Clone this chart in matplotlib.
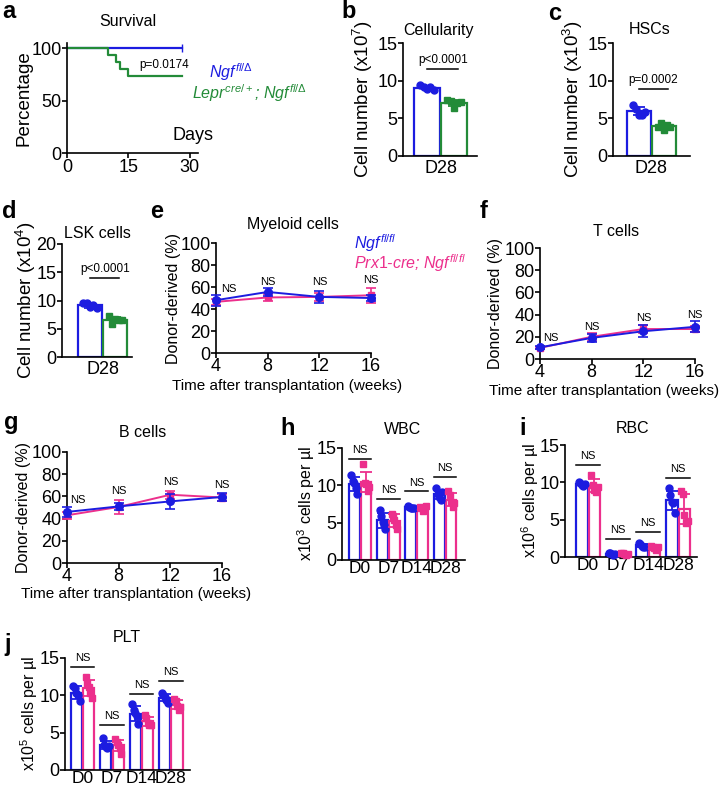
import numpy as np
import matplotlib
matplotlib.use("Agg")
import matplotlib.pyplot as plt

plt.rcParams['font.family'] = ['Liberation Sans', 'DejaVu Sans']
plt.rcParams['mathtext.fontset'] = 'custom'
plt.rcParams['mathtext.rm'] = 'Liberation Sans'
plt.rcParams['mathtext.it'] = 'Liberation Sans:italic'
plt.rcParams['mathtext.bf'] = 'Liberation Sans:bold'

BLUE = '#1c1ce0'
GREEN = '#238b38'
PINK = '#ec2f8c'

# ---------------- data ----------------
# a: survival
surv_ctrl_days = [0, 28]
surv_ctrl_pct = [100, 100]
surv_ko_days = [0, 10, 12, 13, 15, 28]
surv_ko_pct = [100, 93.3, 86.7, 80.0, 73.3, 73.3]
surv_p = "p=0.0174"

# b-d: single timepoint bars (D28)
cell_ctrl = [9.4, 9.2, 8.9, 9.1, 8.8]
cell_ko = [7.4, 7.3, 6.4, 7.0, 7.2]
hsc_ctrl = [6.8, 6.2, 5.5, 5.5, 5.9]
hsc_ko = [3.9, 4.4, 3.5, 4.1, 3.9]
lsk_ctrl = [9.6, 9.5, 8.8, 9.2, 8.6]
lsk_ko = [7.3, 5.8, 6.8, 6.6, 6.5]

# e-g: time courses
weeks = [4, 8, 12, 16]
mye_ctrl = [48, 55.5, 51, 50]
mye_ctrl_err = [5, 4, 5.5, 3]
mye_ko = [46.5, 50.5, 51, 52.5]
mye_ko_err = [3, 3, 4, 7]
t_ctrl = [10.5, 19, 25, 29]
t_ctrl_err = [1.5, 3.5, 5.5, 5]
t_ko = [10, 20, 27, 27]
t_ko_err = [1, 3.5, 3.5, 3]
b_ctrl = [46, 51, 55.5, 59.5]
b_ctrl_err = [4.5, 3, 7, 4]
b_ko = [43, 50.5, 61.5, 59]
b_ko_err = [3, 6.5, 3.5, 3]

# h-j: blood counts
days = ['D0', 'D7', 'D14', 'D28']
wbc_ctrl = [[11.4, 10.6, 10.3, 9.6, 8.9], [6.7, 5.9, 5.1, 4.7, 4.1],
            [7.2, 7.1, 7.0, 7.0, 6.9], [9.6, 8.9, 8.5, 8.0, 9.1]]
wbc_ko = [[12.8, 10.3, 10.2, 9.2, 9.8], [6.2, 5.9, 5.4, 4.7, 4.2],
          [7.1, 7.0, 6.5, 6.8, 7.2], [9.2, 8.7, 7.8, 7.1, 7.6]]
rbc_ctrl = [[10.0, 9.9, 9.7, 9.5, 9.8], [0.6, 0.5, 0.4, 0.3, 0.4],
            [1.9, 1.7, 1.5, 1.3, 1.4], [9.3, 8.3, 7.4, 7.2, 5.9]]
rbc_ko = [[11.0, 9.6, 9.0, 8.7, 9.4], [0.5, 0.5, 0.4, 0.3, 0.4],
          [1.5, 1.4, 1.2, 1.0, 1.3], [8.8, 8.4, 5.6, 4.5, 4.8]]
plt_ctrl = [[11.3, 11.0, 10.3, 10.0, 9.2], [4.3, 3.4, 3.1, 3.0, 3.2],
            [8.8, 8.1, 7.6, 7.2, 6.1], [10.3, 10.0, 9.8, 9.4, 9.0]]
plt_ko = [[12.4, 11.6, 11.1, 10.3, 9.6], [4.2, 3.8, 3.4, 2.9, 2.2],
          [7.4, 6.9, 6.3, 6.0, 6.0], [9.5, 9.2, 8.6, 8.1, 8.4]]

# ---------------- layout helpers ----------------
W, H = 722, 789
fig = plt.figure(figsize=(W / 100, H / 100), dpi=100)

TICK_FS = 13
YLAB_FS = 13.5


def add_ax(l, t, r, b):
    ax = fig.add_axes([l / W, 1 - b / H, (r - l) / W, (b - t) / H])
    ax._box_px = (l, t, r, b)
    for s in ('top', 'right'):
        ax.spines[s].set_visible(False)
    for s in ('left', 'bottom'):
        ax.spines[s].set_linewidth(1.2)
    ax.tick_params(direction='out', length=3.5, width=1.2, labelsize=TICK_FS, pad=0.5)
    return ax


def ylabel_at(ax, text, right_px, fs=YLAB_FS):
    l, t, r, b = ax._box_px
    ax.set_ylabel(text, fontsize=fs)
    ax.yaxis.set_label_coords((right_px - l) / (r - l), 0.5)


def ftext(x, y, s, **kw):
    fig.text(x / W, 1 - y / H, s, **kw)


def letter(x, y, s):
    ftext(x, y, s, fontsize=17, fontweight='bold', ha='left', va='center')


def title(x, y, s):
    ftext(x, y, s, fontsize=11.5, ha='center', va='center')


OFFS = np.array([-0.32, -0.16, 0.0, 0.16, 0.32])


def scatter_bar(ax, x, vals, color, marker, width):
    vals = np.asarray(vals)
    m = vals.mean()
    sd = vals.std(ddof=1)
    ax.bar(x, m, width=width, facecolor='white', edgecolor=color, linewidth=1.6, zorder=1)
    ax.plot(x + OFFS * width * 0.85, vals, linestyle='none', marker=marker, color=color,
            markersize=5, zorder=3, clip_on=False)
    ax.errorbar(x, m, yerr=sd, color=color, capsize=4, elinewidth=1.3, capthick=1.3,
                zorder=4, fmt='none')


# ---------------- a: survival ----------------
ax = add_ax(67, 43, 198, 153)
ax.step(surv_ctrl_days, surv_ctrl_pct, where='post', color=BLUE, lw=1.6, clip_on=False)
ax.plot(surv_ctrl_days[-1:], surv_ctrl_pct[-1:], marker='|', color=BLUE, markersize=6,
        clip_on=False)
ax.step(surv_ko_days, surv_ko_pct, where='post', color=GREEN, lw=1.6, clip_on=False)
ax.set_xlim(0, 32)
ax.set_ylim(0, 105)
ax.set_xticks([0, 15, 30])
ax.set_yticks([0, 50, 100])
ylabel_at(ax, 'Percentage', 32)
letter(2, 12, 'a')
title(128, 21, 'Survival')
ftext(139, 65, surv_p, fontsize=8.5, ha='left', va='center')
ftext(172, 135, 'Days', fontsize=13, ha='left', va='center')
ftext(209, 72, r'$Ngf^{fl/\Delta}$', fontsize=11.5, color=BLUE, ha='left', va='center')
ftext(192, 93, r'$Lepr^{cre/+}$; $Ngf^{fl/\Delta}$', fontsize=11.5, color=GREEN,
      ha='left', va='center', style='italic')


# ---------------- b-d ----------------
def two_bar(box, xlim, ylim, yticks, ctrl, ko, ylab, p, pline_y, lab_right):
    ax = add_ax(*box)
    scatter_bar(ax, 1, ctrl, BLUE, 'o', 0.94)
    scatter_bar(ax, 2, ko, GREEN, 's', 0.94)
    ax.set_xlim(*xlim)
    ax.set_ylim(*ylim)
    ax.set_yticks(yticks)
    ax.set_xticks([1.5])
    ax.set_xticklabels(['D28'])
    ax.tick_params(axis='x', length=0, pad=3)
    ylabel_at(ax, ylab, lab_right)
    ax.plot([1.0, 2.15], [pline_y, pline_y], color='black', lw=1.1, clip_on=False)
    ax.text(1.58, pline_y + (ylim[1] - ylim[0]) * 0.03, p, fontsize=8.5, ha='center',
            va='bottom')
    return ax


two_bar((403, 43, 477, 156), (0.11, 2.85), (0, 15), [0, 5, 10, 15], cell_ctrl, cell_ko,
        r'Cell number (x10$^{7}$)', 'p<0.0001', 11.5, 375)
letter(341, 11, 'b')
title(438, 30, 'Cellularity')

two_bar((613, 43, 690, 156), (-0.04, 3.04), (0, 15), [0, 5, 10, 15], hsc_ctrl, hsc_ko,
        r'Cell number (x10$^{3}$)', 'p=0.0002', 8.9, 585)
letter(548, 13, 'c')
title(650, 30, 'HSCs')

two_bar((62, 244, 132, 357), (-0.1, 2.65), (0, 20), [0, 5, 10, 15, 20], lsk_ctrl, lsk_ko,
        r'Cell number (x10$^{4}$)', 'p<0.0001', 14.0, 38)
letter(2, 212, 'd')
title(97, 233, 'LSK cells')


# ---------------- e-g: time courses ----------------
def time_course(box, c, ce, k, ke, ns_x, ns_y, xlab_px, ylab_right):
    ax = add_ax(*box)
    ax.errorbar(weeks, k, yerr=ke, color=PINK, marker='s', markersize=5, lw=1.4,
                capsize=3.5, capthick=1.2, elinewidth=1.2, clip_on=False, zorder=3)
    ax.errorbar(weeks, c, yerr=ce, color=BLUE, marker='o', markersize=5.5, lw=1.4,
                capsize=3.5, capthick=1.2, elinewidth=1.2, clip_on=False, zorder=4)
    ax.set_xlim(4, 16)
    ax.set_ylim(0, 100)
    ax.set_xticks(weeks)
    ax.set_yticks([0, 20, 40, 60, 80, 100])
    ax.tick_params(axis='x', pad=0)
    ylabel_at(ax, 'Donor-derived (%)', ylab_right, fs=11.5)
    ftext(xlab_px[0], xlab_px[1], 'Time after transplantation (weeks)', fontsize=11,
          ha='center', va='center')
    for x, y in zip(ns_x, ns_y):
        ax.text(x, y, 'NS', fontsize=8, ha='center', va='center')
    return ax


time_course((216, 243, 371, 353), mye_ctrl, mye_ctrl_err, mye_ko, mye_ko_err,
            [5.0, 8, 12, 16], [58, 65, 65, 66], (287, 386), 181)
letter(150, 212, 'e')
title(293, 225, 'Myeloid cells')
ftext(354, 243, r'$Ngf^{fl/fl}$', fontsize=11.5, color=BLUE, ha='left', va='center')
ftext(354, 263, r'$Prx1$-$cre$; $Ngf^{fl/fl}$', fontsize=11.5, color=PINK, ha='left',
      va='center', style='italic')

time_course((540, 248, 695, 359), t_ctrl, t_ctrl_err, t_ko, t_ko_err,
            [4.8, 8, 12, 16], [19, 29, 37, 40], (604, 391), 503)
letter(480, 212, 'f')
title(616, 232, 'T cells')

time_course((67, 452, 222, 563), b_ctrl, b_ctrl_err, b_ko, b_ko_err,
            [4.8, 8, 12, 16], [57, 65, 73, 70], (136, 594), 31)
letter(4, 422, 'g')
title(143, 433, 'B cells')


# ---------------- h-j: blood counts ----------------
def blood(box, xlim, ctrl, ko, ylab, ns_y, ylab_right):
    ax = add_ax(*box)
    x = np.arange(len(days))
    for i in range(len(days)):
        scatter_bar(ax, x[i] - 0.21, ctrl[i], BLUE, 'o', 0.38)
        scatter_bar(ax, x[i] + 0.21, ko[i], PINK, 's', 0.38)
        ax.plot([x[i] - 0.4, x[i] + 0.4], [ns_y[i], ns_y[i]], color='black', lw=1.1)
        ax.text(x[i], ns_y[i] + 0.5, 'NS', fontsize=8, ha='center', va='bottom')
    ax.set_xlim(*xlim)
    ax.set_ylim(0, 15)
    ax.set_yticks([0, 5, 10, 15])
    ax.set_xticks(x)
    ax.set_xticklabels(days)
    ax.tick_params(axis='x', length=0, pad=1, labelsize=12.5)
    ylabel_at(ax, ylab, ylab_right, fs=11.5)
    return ax


blood((342, 448, 465, 560), (-0.64, 3.7), wbc_ctrl, wbc_ko,
      r'x10$^{3}$ cells per µl', [13.5, 8.2, 9.2, 11.1], 317)
letter(280, 428, 'h')
title(403, 430, 'WBC')

blood((565, 445, 697, 557), (-0.77, 3.63), rbc_ctrl, rbc_ko,
      r'x10$^{6}$ cells per µl', [12.3, 2.4, 3.4, 10.6], 541)
letter(519, 428, 'i')
title(633, 428, 'RBC')

blood((65, 658, 190, 770), (-0.6, 3.65), plt_ctrl, plt_ko,
      r'x10$^{5}$ cells per µl', [13.8, 6.0, 10.2, 11.9], 40)
letter(4, 645, 'j')
title(127, 638, 'PLT')

fig.savefig('out.png', dpi=100, facecolor='white')
